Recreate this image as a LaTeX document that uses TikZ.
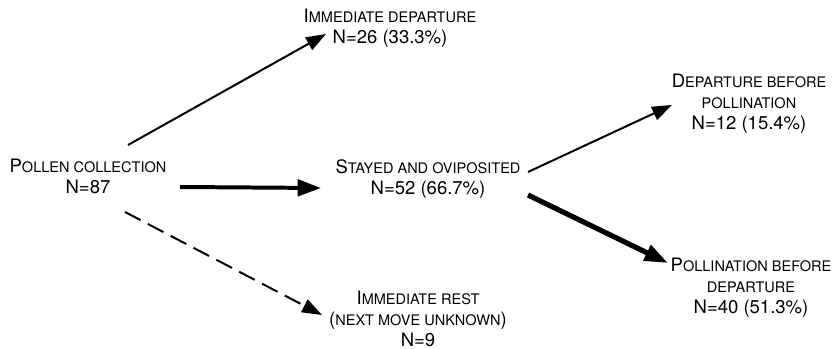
\documentclass[tikz,border=0pt]{standalone}
\usepackage{fontspec}
\setmainfont{TeX Gyre Heros}
\usetikzlibrary{positioning, calc, arrows.meta}
% fake small capitals: first letter full size, rest smaller
\newcommand{\smcaps}[2]{#1{\fontsize{12.4}{15}\selectfont #2}}
\newcommand{\lowcaps}[1]{{\fontsize{12.4}{15}\selectfont #1}}
\tikzset{
    stagenode/.style={align=center, inner sep=0pt, font=\fontsize{15.8}{17.8}\selectfont},
    thinarrow/.style={-{Triangle[length=17pt,width=12pt]}, line width=1.7pt},
    thickarrow/.style={-{Triangle[length=20pt,width=14pt]}, line width=3.4pt},
    heavyarrow/.style={-{Triangle[length=20pt,width=14pt]}, line width=4.4pt},
    dasharrow/.style={thinarrow, dash pattern=on 15pt off 7pt},
}
\begin{document}
\begin{tikzpicture}[x=0.03cm, y=-0.03cm]
    \useasboundingbox (0,0) rectangle (832,349);
    % Nodi
    \node[stagenode] (pollen) at (88,176) {\smcaps{P}{OLLEN COLLECTION}\\N=87};
    \node[stagenode] (depart) at (390,28) {\smcaps{I}{MMEDIATE DEPARTURE}\\N=26 (33.3\%)};
    \node[stagenode] (stayed) at (428,179) {\smcaps{S}{TAYED AND OVIPOSITED}\\N=52 (66.7\%)};
    \node[stagenode] (rest) at (418,319) {\smcaps{I}{MMEDIATE REST}\\(\lowcaps{NEXT MOVE UNKNOWN})\\N=9};
    \node[stagenode] (before) at (749,104) {\smcaps{D}{EPARTURE BEFORE}\\\lowcaps{POLLINATION}\\N=12 (15.4\%)};
    \node[stagenode] (pollin) at (751,288) {\smcaps{P}{OLLINATION BEFORE}\\\lowcaps{DEPARTURE}\\N=40 (51.3\%)};

    % Frecce
    \draw[thinarrow] ($(pollen.center)+(40,-31)$) -- ($(depart.center)+(-64,6)$);
    \draw[thickarrow] ($(pollen.center)+(92,11)$) -- ($(stayed.center)+(-107,9)$);
    \draw[dasharrow] ($(pollen.center)+(37,36)$) -- ($(rest.center)+(-96,-4)$);
    \draw[thinarrow] ($(stayed.center)+(100,-7)$) -- ($(before.center)+(-77,1)$);
    \draw[heavyarrow] ($(stayed.center)+(100,16)$) -- ($(pollin.center)+(-83,-25)$);
\end{tikzpicture}
\end{document}
